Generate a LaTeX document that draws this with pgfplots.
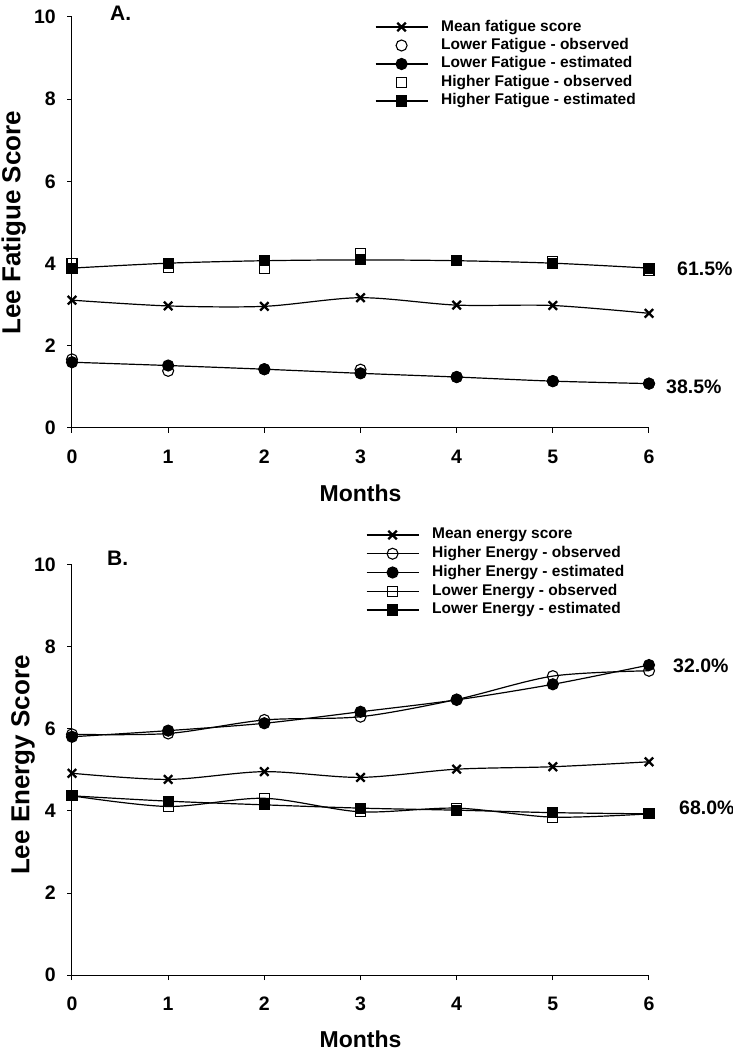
\documentclass[border=0pt]{standalone}
\usepackage{pgfplots}
\pgfplotsset{compat=1.18}
\usepackage{fontspec}
\setmainfont{Liberation Sans}
\begin{document}
\begin{tikzpicture}[x=1pt,y=1pt]
\path[use as bounding box] (0,0) rectangle (733,1050);
\pgfplotsset{
 base/.style={
  scale only axis, width=577pt, xmin=0,xmax=6,ymin=0,ymax=10,
  axis x line*=bottom, axis y line*=left,
  axis line style={line width=1pt},
  tick align=outside, major tick length=5pt,
  tick style={line width=1pt,black},
  xtick={0,...,6}, ytick={0,2,...,10},
  /pgf/number format/assume math mode=true,
  xticklabel style={font=\fontsize{19.5}{21}\selectfont\bfseries, inner sep=0pt, yshift=-16.5pt},
  yticklabel style={font=\fontsize{19.5}{21}\selectfont\bfseries, inner sep=0pt, xshift=-11pt},
  clip=false,
  legend cell align=left,
  every axis plot/.append style={line width=1.2pt, black},
  legend style={draw=none, fill=none, inner sep=0pt, outer sep=0pt, row sep=3.5pt,
    anchor=north west,
    font=\fontsize{15.5}{18}\selectfont\bfseries,
    nodes={inner sep=0pt, text height=11.5pt, text depth=3.5pt}},
 },
 legimg/.style={legend image code/.code={\draw[mark repeat=2,mark phase=2,##1] plot coordinates {(0pt,0pt)(26pt,0pt)(52pt,0pt)}; \path (65pt,0pt);}},
 mmean/.style={smooth, mark=x, mark size=6pt, mark options={line width=2.3pt}},
 mocirc/.style={mark=o, mark size=5.5pt, mark options={line width=1.1pt}},
 mfcirc/.style={mark=*, mark size=5.5pt, mark options={fill=black}},
 mosq/.style={mark=square, mark size=5pt, mark options={line width=1.1pt}},
 mfsq/.style={mark=square*, mark size=5pt, mark options={fill=black}},
}
% ---------------- Panel A ----------------
\begin{axis}[base, at={(72pt,622pt)}, anchor=south west, height=411pt,
  legend style={at={(rel axis cs:0.5251,0.9939)}}]
\addplot[mmean, legimg] coordinates {(0,3.11)(1,2.97)(2,2.96)(3,3.17)(4,2.99)(5,2.98)(6,2.79)};
\addlegendentry{Mean fatigue score}
\addplot[only marks, mocirc, legimg] coordinates {(0,1.67)(1,1.39)(2,1.43)(3,1.42)(4,1.24)(5,1.14)(6,1.08)};
\addlegendentry{Lower Fatigue - observed}
\addplot[smooth, mfcirc, legimg] coordinates {(0,1.60)(1,1.52)(2,1.43)(3,1.33)(4,1.24)(5,1.14)(6,1.08)};
\addlegendentry{Lower Fatigue - estimated}
\addplot[only marks, mosq, legimg] coordinates {(0,4.00)(1,3.91)(2,3.89)(3,4.25)(4,4.07)(5,4.05)(6,3.83)};
\addlegendentry{Higher Fatigue - observed}
\addplot[smooth, mfsq, legimg] coordinates {(0,3.89)(1,4.01)(2,4.07)(3,4.09)(4,4.07)(5,4.01)(6,3.89)};
\addlegendentry{Higher Fatigue - estimated}
\node[anchor=west, inner sep=0pt, font=\fontsize{19.5}{20}\selectfont\bfseries] at (axis cs:6.291,3.87) {61.5\%};
\node[anchor=west, inner sep=0pt, font=\fontsize{19.5}{20}\selectfont\bfseries] at (axis cs:6.177,1.00) {38.5\%};
\node[anchor=west, inner sep=0pt, font=\fontsize{21}{23}\selectfont\bfseries] at (axis cs:0.395,10.10) {A.};
\node[rotate=90, anchor=south, inner sep=0pt, font=\fontsize{26}{28}\selectfont\bfseries] at (axis cs:-0.478,4.99) {Lee Fatigue Score};
\node[anchor=center, inner sep=0pt, font=\fontsize{23}{25}\selectfont\bfseries] at (axis cs:3,-1.58) {Months};
\end{axis}
% ---------------- Panel B ----------------
\begin{axis}[base, at={(72pt,75pt)}, anchor=south west, height=410pt,
  legend style={at={(rel axis cs:0.5095,1.0915)}, row sep=3.75pt}]
\addplot[mmean, legimg] coordinates {(0,4.92)(1,4.77)(2,4.96)(3,4.82)(4,5.02)(5,5.08)(6,5.20)};
\addlegendentry{Mean energy score}
\addplot[smooth, mocirc, legimg] coordinates {(0,5.87)(1,5.89)(2,6.22)(3,6.30)(4,6.72)(5,7.29)(6,7.42)};
\addlegendentry{Higher Energy - observed}
\addplot[smooth, mfcirc, legimg] coordinates {(0,5.81)(1,5.96)(2,6.14)(3,6.42)(4,6.71)(5,7.09)(6,7.56)};
\addlegendentry{Higher Energy - estimated}
\addplot[smooth, mosq, legimg] coordinates {(0,4.37)(1,4.11)(2,4.31)(3,3.98)(4,4.07)(5,3.85)(6,3.93)};
\addlegendentry{Lower Energy - observed}
\addplot[smooth, mfsq, legimg] coordinates {(0,4.37)(1,4.24)(2,4.15)(3,4.07)(4,4.02)(5,3.96)(6,3.93)};
\addlegendentry{Lower Energy - estimated}
\node[anchor=west, inner sep=0pt, font=\fontsize{19.5}{20}\selectfont\bfseries] at (axis cs:6.250,7.54) {32.0\%};
\node[anchor=west, inner sep=0pt, font=\fontsize{19.5}{20}\selectfont\bfseries] at (axis cs:6.312,4.07) {68.0\%};
\node[anchor=west, inner sep=0pt, font=\fontsize{21}{23}\selectfont\bfseries] at (axis cs:0.364,10.17) {B.};
\node[rotate=90, anchor=south, inner sep=0pt, font=\fontsize{26}{28}\selectfont\bfseries] at (axis cs:-0.385,5.12) {Lee Energy Score};
\node[anchor=center, inner sep=0pt, font=\fontsize{23}{25}\selectfont\bfseries] at (axis cs:3,-1.56) {Months};
\end{axis}
\end{tikzpicture}
\end{document}
